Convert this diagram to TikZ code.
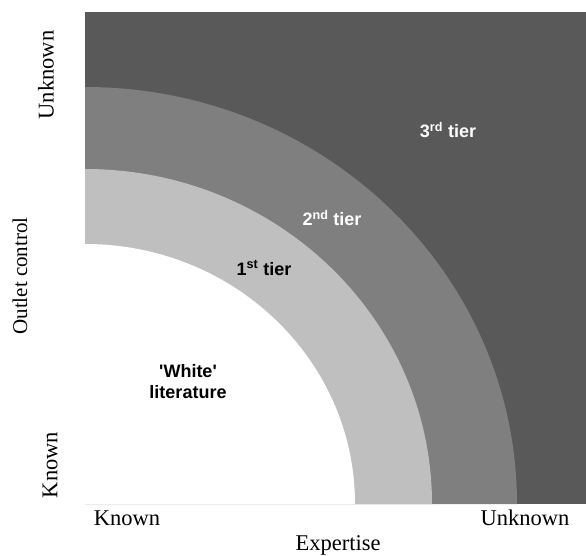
\documentclass[tikz,border=0pt]{standalone}
\usepackage{fontspec}
\setmainfont{Liberation Serif}
\newfontfamily\tiersans{Liberation Sans}
\definecolor{tierthree}{HTML}{595959}
\definecolor{tiertwo}{HTML}{7F7F7F}
\definecolor{tierone}{HTML}{BFBFBF}
\begin{document}
\begin{tikzpicture}[x=1pt,y=1pt,
  axislabel/.style={inner sep=0pt, font=\fontsize{22.5}{24}\selectfont},
  tierlabel/.style={inner sep=0pt, font=\tiersans\bfseries\fontsize{18}{21}\selectfont, align=center}]
\useasboundingbox (0,0) rectangle (586,555);
% tiers as nested quarter ellipses around the known/known corner
\fill[tierthree] (85,51) rectangle (586,543);
\fill[tiertwo] (85,51) -- (517,51) arc[start angle=0, end angle=90, x radius=432, y radius=417] -- cycle;
\fill[tierone] (85,51) -- (432,51) arc[start angle=0, end angle=90, x radius=347, y radius=335] -- cycle;
\fill[white] (85,51) -- (355,51) arc[start angle=0, end angle=90, x radius=270, y radius=260] -- cycle;
% tier labels
\node[tierlabel, text=white] (t3) at (448,425) {3\textsuperscript{rd} tier};
\node[tierlabel, text=white] (t2) at (332,337) {2\textsuperscript{nd} tier};
\node[tierlabel, text=black] (t1) at (264,287) {1\textsuperscript{st} tier};
\node[tierlabel, text=black] (wl) at (188,173) {'White'\\literature};
% axes
\node[axislabel, rotate=90] (yhi) at (46,480) {Unknown};
\node[axislabel, rotate=90, font=\fontsize{21}{24}\selectfont] (ylab) at (20,279) {Outlet control};
\node[axislabel, rotate=90] (ylo) at (50,90) {Known};
\node[axislabel] (xlo) at (127,37) {Known};
\node[axislabel] (xhi) at (525,37) {Unknown};
\node[axislabel] (xlab) at (338,10) {Expertise};
\end{tikzpicture}
\end{document}
